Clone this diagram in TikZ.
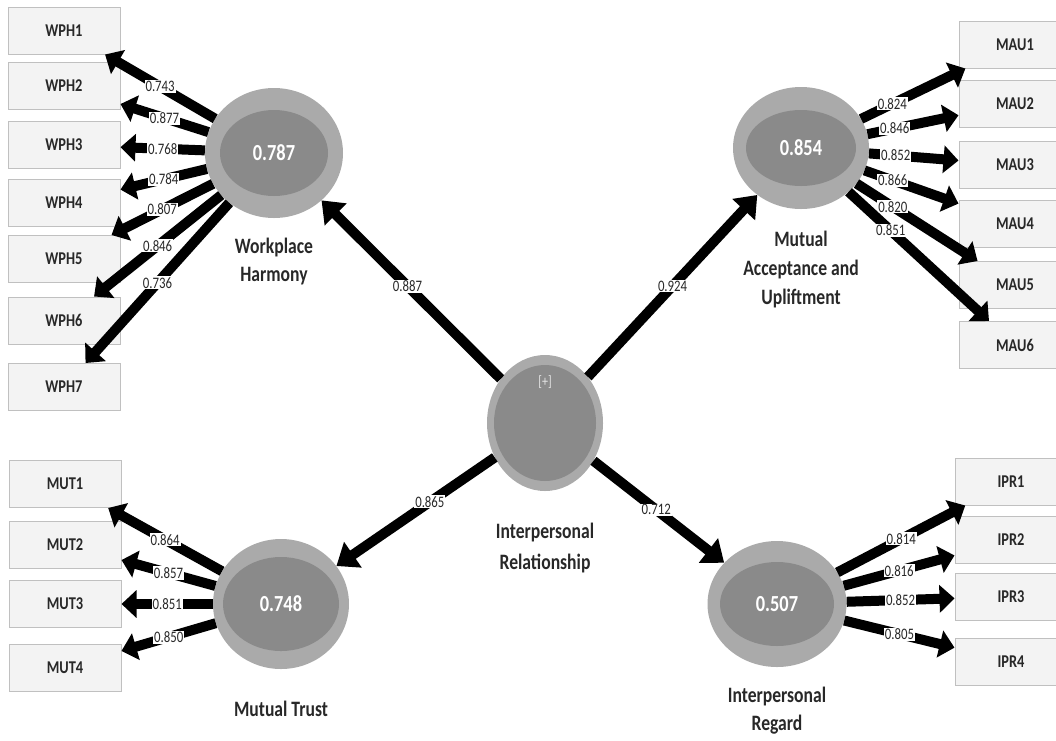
\documentclass[tikz,border=0pt]{standalone}
\usepackage{fontspec}
\setmainfont{Carlito}[FakeStretch=0.8]
\usetikzlibrary{arrows.meta,positioning,shapes.geometric}
\definecolor{lvout}{RGB}{170,170,170}
\definecolor{lvin}{RGB}{138,138,138}
\definecolor{boxfill}{RGB}{243,243,243}
\definecolor{boxline}{RGB}{192,192,192}
\definecolor{ink}{RGB}{40,40,40}
\tikzset{
  ind/.style={line width=10pt,-{Triangle[length=15pt,width=27pt]}},
  rel/.style={line width=10pt,-{Triangle[length=20pt,width=30pt]}},
  item/.style={draw=boxline,fill=boxfill,line width=1pt,minimum width=112pt,minimum height=47pt,
    inner sep=0pt,text=ink,font=\bfseries\fontsize{18pt}{18pt}\selectfont},
  wt/.style={fill=white,inner sep=1pt,text=ink,font=\fontsize{16pt}{16pt}\selectfont},
  lv/.style args={#1/#2}{ellipse,fill=lvout,inner sep=0pt,text=white,
    font=\bfseries\fontsize{23pt}{23pt}\selectfont,
    path picture={\fill[lvin] (path picture bounding box.center) ellipse [x radius=#1,y radius=#2];}},
  lvname/.style={align=center,text=ink,font=\bfseries\fontsize{22pt}{28pt}\selectfont}
}

\begin{document}
\begin{tikzpicture}[x=1pt,y=-1pt]
  \useasboundingbox (0,0) rectangle (1056,740);

  % Latent variables
  \node[lv=54pt/43pt,minimum width=138pt,minimum height=130pt] (wph) at (274,153) {0.787};
  \node[lv=55pt/38pt,minimum width=136pt,minimum height=122pt] (mau) at (801,148) {0.854};
  \node[lv=51pt/58pt,minimum width=116pt,minimum height=136pt] (ir)  at (545,423) {};
  \node[lv=58pt/47pt,minimum width=136pt,minimum height=130pt] (mut) at (281,604) {0.748};
  \node[lv=57pt/42pt,minimum width=139pt,minimum height=126pt] (ipr) at (777,604) {0.507};
  \node[text=white!80!gray,font=\fontsize{15pt}{15pt}\selectfont] (irplus) at ([yshift=41pt]ir.center) {[+]};

  \node[lvname,below=16pt of wph] (wphname) {Workplace\\Harmony};
  \node[lvname,below=18pt of mau,font=\bfseries\fontsize{22pt}{29pt}\selectfont] (mauname) {Mutual\\Acceptance and\\Upliftment};
  \node[lvname,below=28pt of ir,font=\bfseries\fontsize{22pt}{31pt}\selectfont] (irname) {Interpersonal\\Relationship};
  \node[lvname,below=28pt of mut] (mutname) {Mutual Trust};
  \node[lvname,below=16pt of ipr] (iprname) {Interpersonal\\Regard};

  % Indicators
  \foreach \i/\y in {1/30.5,2/86,3/145,4/203,5/259,6/320.5,7/387}
    \node[item] (wph\i) at (64,\y) {WPH\i};
  \foreach \i/\y in {1/44.5,2/103.5,3/165,4/223.5,5/285,6/345}
    \node[item] (mau\i) at (1015,\y) {MAU\i};
  \foreach \i/\y in {1/484,2/544.5,3/604,4/667.5}
    \node[item] (mut\i) at (65,\y) {MUT\i};
  \foreach \i/\y in {1/481.5,2/540,3/596.5,4/661.5}
    \node[item] (ipr\i) at (1011,\y) {IPR\i};

  % Outer loadings
  \foreach \i/\w in {1/0.743,2/0.877,3/0.768,4/0.784,5/0.807,6/0.846,7/0.736}
    \draw[ind] (wph) -- node[wt]{\w} (wph\i);
  \foreach \i/\w in {1/0.824,2/0.846,3/0.852,4/0.866,5/0.820,6/0.851}
    \draw[ind] (mau) -- node[wt,pos=0.3]{\w} (mau\i);
  \foreach \i/\w in {1/0.864,2/0.857,3/0.851,4/0.850}
    \draw[ind] (mut) -- node[wt]{\w} (mut\i);
  \foreach \i/\w in {1/0.814,2/0.816,3/0.852,4/0.805}
    \draw[ind] (ipr) -- node[wt]{\w} (ipr\i);

  % Second-order paths
  \draw[rel] (ir) -- node[wt,pos=0.52]{0.887} (wph);
  \draw[rel] (ir) -- node[wt,pos=0.5]{0.924} (mau);
  \draw[rel] (ir) -- node[wt,pos=0.41]{0.865} (mut);
  \draw[rel] (ir) -- node[wt,pos=0.48]{0.712} (ipr);
\end{tikzpicture}
\end{document}
